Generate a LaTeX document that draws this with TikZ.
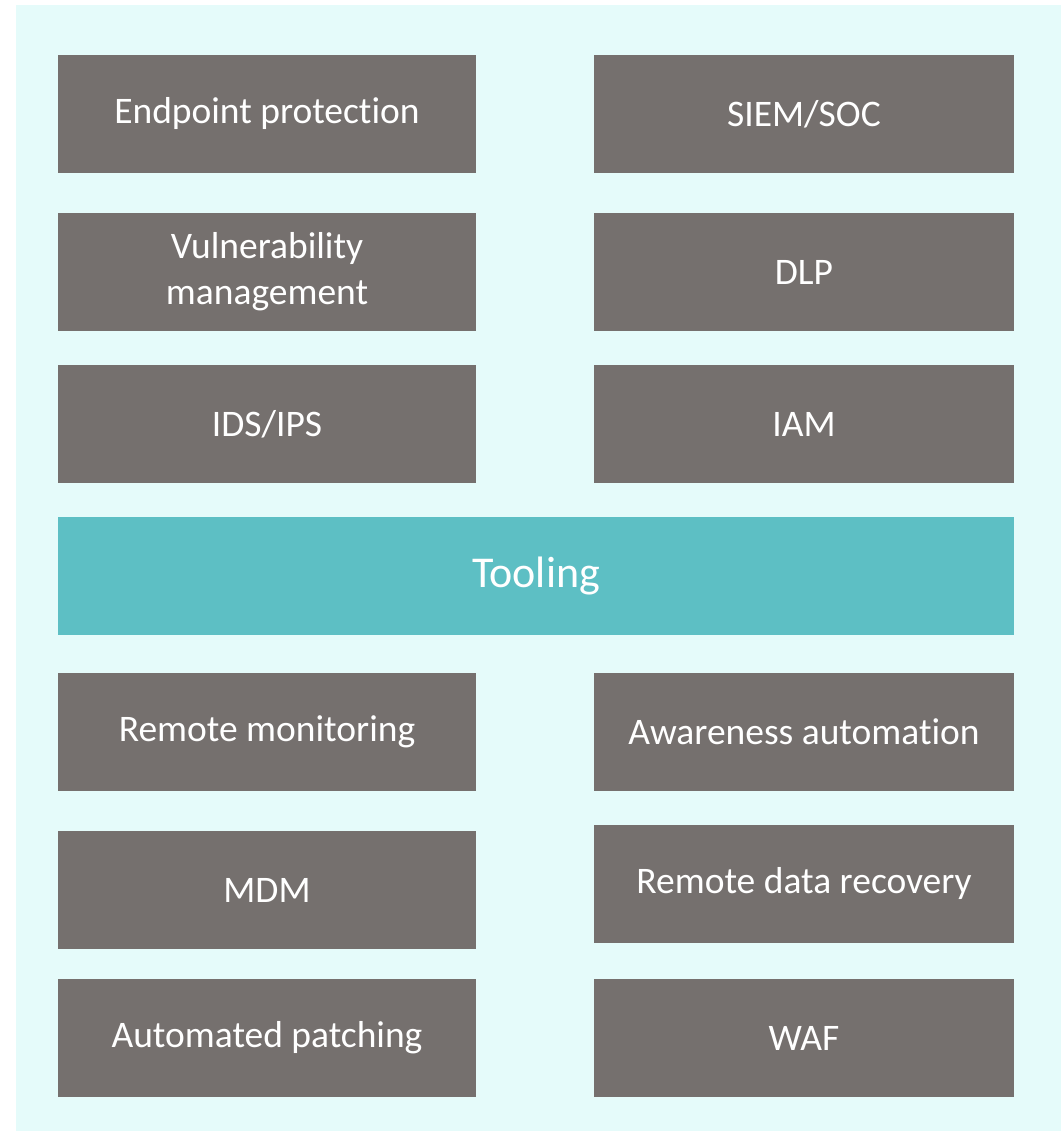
\documentclass[tikz,border=0pt]{standalone}
\usepackage{fontspec}
\setmainfont{Carlito}[RawFeature=-liga]
\definecolor{toolbg}{RGB}{229,251,250}
\definecolor{toolgray}{RGB}{117,112,110}
\definecolor{toolteal}{RGB}{93,191,196}
\begin{document}
\begin{tikzpicture}[x=1pt,y=1pt,font=\fontsize{37.5}{46}\selectfont]
      \tikzstyle{tool box}=[fill=toolgray,text=white,minimum height=118,inner sep=0,align=center]
      \tikzstyle{left box}=[tool box,minimum width=418]
      \tikzstyle{right box}=[tool box,minimum width=420]
      \tikzstyle{main box}=[fill=toolteal,text=white,minimum width=956,minimum height=118,inner sep=0,font=\fontsize{44}{52}\selectfont]

      \useasboundingbox (0,0) rectangle (1061,1131);
      \fill[toolbg] (16,0) rectangle (1061,1126);

      % upper half
      \node(endpoint)[left box] at (267,1017){Endpoint protection};
      \node(siem)[right box] at (804,1017){SIEM/SOC};
      \node(vuln)[left box] at (267,859){Vulnerability\\management};
      \node(dlp)[right box] at (804,859){DLP};
      \node(ids)[left box] at (267,707){IDS/IPS};
      \node(iam)[right box] at (804,707){IAM};

      \node(tooling)[main box] at (536,555){Tooling};

      % lower half
      \node(remote)[left box] at (267,399){Remote monitoring};
      \node(awareness)[right box] at (804,399){Awareness automation};
      \node(mdm)[left box] at (267,241){MDM};
      \node(recovery)[right box] at (804,247){Remote data recovery};
      \node(patching)[left box] at (267,93){Automated patching};
      \node(waf)[right box] at (804,93){WAF};
\end{tikzpicture}
\end{document}
